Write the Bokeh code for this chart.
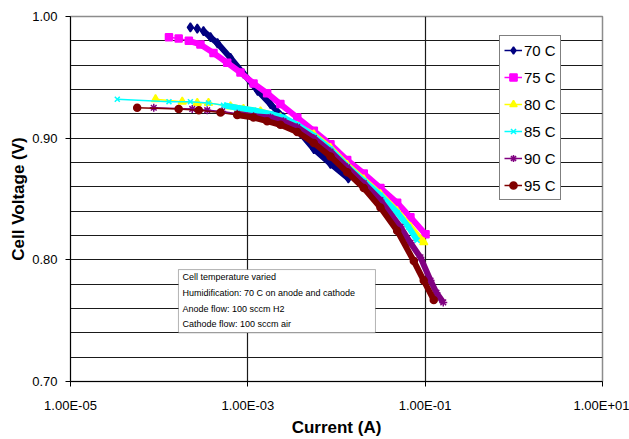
from bokeh.plotting import figure
from bokeh.models import (FixedTicker, CustomJSTickFormatter, Legend, LegendItem,
                          Label, BoxAnnotation, Range1d)
from bokeh.embed import file_html
from bokeh.resources import INLINE

# ---- data ----
series_names = ["70 C", "75 C", "80 C", "85 C", "90 C", "95 C"]

current_70 = [2.25e-4, 2.69e-4, 3.16e-4, 3.79e-4, 4.55e-4, 6.37e-4, 8.93e-4, 1.29e-3,
              1.80e-3, 2.52e-3, 3.93e-3, 5.55e-3, 8.55e-3, 1.36e-2]
voltage_70 = [0.991, 0.990, 0.988, 0.983, 0.978, 0.966, 0.953, 0.939,
              0.928, 0.917, 0.904, 0.891, 0.879, 0.867]

current_75 = [1.29e-4, 1.66e-4, 2.16e-4, 2.92e-4, 4.10e-4, 5.85e-4, 8.26e-4, 1.16e-3,
              1.65e-3, 2.33e-3, 3.61e-3, 5.55e-3, 8.55e-3, 1.32e-2, 2.03e-2, 3.13e-2,
              4.83e-2, 6.82e-2, 1.01e-1]
voltage_75 = [0.983, 0.982, 0.980, 0.977, 0.970, 0.962, 0.954, 0.945,
              0.937, 0.928, 0.917, 0.906, 0.895, 0.882, 0.871, 0.859,
              0.847, 0.835, 0.821]

current_80 = [9.10e-5, 1.82e-4, 2.69e-4, 3.60e-4, 6.37e-4, 8.93e-4, 1.39e-3, 2.33e-3,
              3.61e-3, 5.55e-3, 8.55e-3, 1.32e-2, 2.03e-2, 3.13e-2, 4.83e-2, 6.82e-2,
              9.64e-2]
voltage_80 = [0.932, 0.930, 0.929, 0.929, 0.926, 0.924, 0.922, 0.917,
              0.910, 0.903, 0.892, 0.878, 0.866, 0.854, 0.840, 0.827,
              0.8145]

current_85 = [3.37e-5, 1.29e-4, 2.25e-4, 3.60e-4, 5.31e-4, 7.59e-4, 1.16e-3, 1.80e-3,
              2.52e-3, 3.61e-3, 5.55e-3, 8.55e-3, 1.32e-2, 2.03e-2, 3.13e-2, 4.83e-2,
              6.49e-2, 8.13e-2]
voltage_85 = [0.932, 0.930, 0.930, 0.929, 0.927, 0.925, 0.923, 0.920,
              0.917, 0.911, 0.902, 0.891, 0.877, 0.865, 0.853, 0.839,
              0.827, 0.816]

current_90 = [8.69e-5, 2.36e-4, 3.48e-4, 5.14e-4, 7.59e-4, 1.16e-3, 1.80e-3, 2.52e-3,
              3.61e-3, 5.55e-3, 8.55e-3, 1.32e-2, 2.03e-2, 3.13e-2, 5.27e-2, 6.82e-2,
              8.85e-2, 1.15e-1, 1.34e-1, 1.60e-1]
voltage_90 = [0.925, 0.924, 0.923, 0.922, 0.920, 0.918, 0.917, 0.914,
              0.909, 0.900, 0.889, 0.876, 0.863, 0.849, 0.827, 0.814,
              0.802, 0.783, 0.773, 0.765]

current_95 = [5.65e-5, 1.66e-4, 2.80e-4, 4.92e-4, 7.59e-4, 1.16e-3, 1.65e-3, 2.33e-3,
              3.61e-3, 5.55e-3, 8.55e-3, 1.32e-2, 2.03e-2, 3.13e-2, 4.83e-2, 7.45e-2,
              9.64e-2, 1.25e-1]
voltage_95 = [0.925, 0.924, 0.923, 0.921, 0.919, 0.917, 0.914, 0.911,
              0.905, 0.896, 0.885, 0.872, 0.859, 0.843, 0.824, 0.799,
              0.783, 0.767]

x_ticks = [1e-5, 1e-3, 1e-1, 1e1]
x_tick_labels = ["1.00E-05", "1.00E-03", "1.00E-01", "1.00E+01"]
y_ticks = [0.70, 0.80, 0.90, 1.00]
y_tick_labels = ["0.70", "0.80", "0.90", "1.00"]

note_lines = ["Cell temperature varied",
              "Humidification: 70 C on anode and cathode",
              "Anode flow: 100 sccm H2",
              "Cathode flow: 100 sccm air"]

# ---- styles ----
colors = ["#000080", "#FF00FF", "#FFFF00", "#00FFFF", "#800080", "#800000"]
markers = ["diamond", "square", "triangle", "x", "asterisk", "circle"]
marker_sizes = [9, 7, 8, 7, 8, 7]
dense_from = [2, 2, 4, 4, 4, 4]

SANS = "'Liberation Sans', Arial, sans-serif"

p = figure(width=629, height=439, x_axis_type="log",
           x_range=Range1d(1e-5, 1e1), y_range=Range1d(0.70, 1.00),
           output_backend="svg", toolbar_location=None,
           min_border_left=70, min_border_right=27, min_border_top=16,
           min_border_bottom=58)
p.background_fill_color = "white"
p.border_fill_color = "white"
p.outline_line_color = "#8c8c8c"
p.outline_line_width = 1.5

# grid
grid_y = [round(0.70 + 0.02 * i, 2) for i in range(16)]
p.xgrid.ticker = FixedTicker(ticks=x_ticks)
p.ygrid.ticker = FixedTicker(ticks=grid_y)
for g in (p.xgrid, p.ygrid):
    g.grid_line_color = "#1a1a1a"
    g.grid_line_width = 1.2

# axes
p.xaxis.ticker = FixedTicker(ticks=x_ticks, minor_ticks=[])
p.yaxis.ticker = FixedTicker(ticks=y_ticks, minor_ticks=[])
p.xaxis.formatter = CustomJSTickFormatter(
    args=dict(tvals=x_ticks, tlabels=x_tick_labels),
    code="const i = tvals.findIndex(t => Math.abs(Math.log10(t) - Math.log10(tick)) < 1e-6); return i >= 0 ? tlabels[i] : '';")
p.yaxis.formatter = CustomJSTickFormatter(
    args=dict(tvals=y_ticks, tlabels=y_tick_labels),
    code="const i = tvals.findIndex(t => Math.abs(t - tick) < 1e-6); return i >= 0 ? tlabels[i] : '';")
p.xaxis.axis_label = "Current (A)"
p.yaxis.axis_label = "Cell Voltage (V)"
for ax in (p.xaxis, p.yaxis):
    ax.axis_line_color = "black"
    ax.axis_line_width = 1
    ax.major_tick_line_color = "black"
    ax.major_tick_in = 0
    ax.major_tick_out = 5
    ax.minor_tick_out = 0
    ax.minor_tick_in = 0
    ax.major_label_text_font = SANS
    ax.major_label_text_font_size = "13px"
    ax.major_label_text_color = "black"
    ax.axis_label_text_font = SANS
    ax.axis_label_text_font_style = "bold"
    ax.axis_label_text_font_size = "17px"
    ax.axis_label_text_color = "black"
p.xaxis.major_label_standoff = 11
p.xaxis.axis_label_standoff = 2
p.yaxis.major_label_standoff = 8
p.yaxis.axis_label_standoff = 1

# series
currents = [current_70, current_75, current_80, current_85, current_90, current_95]
voltages = [voltage_70, voltage_75, voltage_80, voltage_85, voltage_90, voltage_95]
items = []
for name, cur, vol, col, mk, ms, d in zip(series_names, currents, voltages, colors,
                                         markers, marker_sizes, dense_from):
    p.line(cur[d:], vol[d:], line_color=col, line_width=6)
    ln = p.line(cur, vol, line_color=col, line_width=1.5)
    sc = p.scatter(cur, vol, marker=mk, size=ms, fill_color=col, line_color=col,
                   line_width=1.5)
    items.append(LegendItem(label=name, renderers=[ln, sc]))

legend = Legend(items=items, location=(429, 181), orientation="vertical")
legend.border_line_color = "black"
legend.border_line_width = 1
legend.background_fill_color = "white"
legend.background_fill_alpha = 1
legend.padding = 4
legend.spacing = 7
legend.margin = 0
legend.glyph_height = 20
legend.glyph_width = 18
legend.label_height = 20
legend.label_standoff = 2
legend.label_text_font = SANS
legend.label_text_font_size = "15px"
legend.label_text_color = "black"
p.add_layout(legend)

# note box
box = BoxAnnotation(left=1.65e-4, right=2.75e-2, top=0.792, bottom=0.740,
                    fill_color="white", fill_alpha=1, line_color="black",
                    line_width=1, level="annotation")
p.add_layout(box)
for i, txt in enumerate(note_lines):
    p.add_layout(Label(x=1.83e-4, y=0.7855 - 0.0128 * i, text=txt,
                       text_font=SANS, text_font_size="9px",
                       text_baseline="middle", text_align="left",
                       text_color="black"))

open("out.html", "w").write(file_html(p, INLINE))
